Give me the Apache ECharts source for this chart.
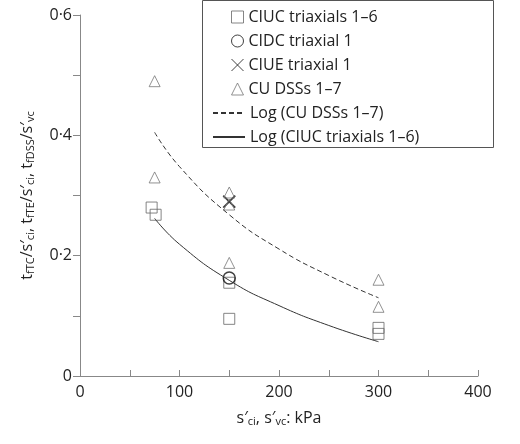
<!DOCTYPE html>
<html><head><meta charset="utf-8">
<script src="https://cdn.jsdelivr.net/npm/echarts@6/dist/echarts.min.js"></script>
<style>body{margin:0}#c{width:520px;height:444px}</style></head>
<body><div id="c"></div>
<script>
// 데이터
var ciucTriax = [[72, 0.28], [76, 0.268], [150, 0.155], [150, 0.095], [300, 0.08], [300, 0.07]];
var cidcTriax = [[150, 0.163]];
var ciueTriax = [[150, 0.29]];
var cuDss = [[75, 0.49], [75, 0.33], [150, 0.305], [150, 0.285], [150, 0.188], [300, 0.16], [300, 0.115]];
var logDss = [[75, 0.405], [100, 0.348], [150, 0.268], [200, 0.211], [250, 0.167], [300, 0.13]];
var logCiuc = [[75, 0.262], [100, 0.219], [150, 0.159], [200, 0.117], [250, 0.084], [300, 0.057]];

var font = 'Open Sans';
var grey = '#888';
var crossPath = 'path://M0,0L10,10M10,0L0,10';

var sub = {fontSize: 11, fontFamily: font, verticalAlign: 'bottom', padding: [6, 0, 0, 0], color: '#222'};
var mainTxt = {fontSize: 16, fontFamily: font, color: '#222'};
var legText = {fontFamily: font, fontSize: 16, color: '#222'};

var option = {
    animation: false,
    grid: {left: 80, right: 42, top: 15, bottom: 68},
    graphic: [{type: 'rect', shape: {x: 202.5, y: 0.5, width: 291, height: 147},
        style: {fill: 'none', stroke: '#555', lineWidth: 1}, z: 1}],
    legend: [{
        orient: 'vertical', left: 226, top: 4, itemGap: 8, itemWidth: 12, itemHeight: 12,
        textStyle: legText, itemStyle: {borderWidth: 1},
        data: ['CIUC triaxials 1–6', 'CIDC triaxial 1', 'CIUE triaxial 1', 'CU DSSs 1–7']
    }, {
        orient: 'vertical', left: 207, top: 100, itemGap: 8, itemWidth: 32, itemHeight: 12,
        textStyle: legText, itemStyle: {opacity: 0},
        data: ['Log (CU DSSs 1–7)', 'Log (CIUC triaxials 1–6)']
    }],
    xAxis: {
        type: 'value', min: 0, max: 400, interval: 50,
        axisLine: {lineStyle: {color: grey}},
        axisTick: {inside: true, length: 6, lineStyle: {color: grey}},
        splitLine: {show: false},
        axisLabel: {fontFamily: font, fontSize: 16, color: '#222',
            formatter: function (v) { return v % 100 === 0 ? v : ''; }},
        name: '{m|s′}{s|ci}{m|, s′}{s|vc}{m|: kPa}', nameLocation: 'middle', nameGap: 34,
        nameTextStyle: {rich: {m: mainTxt, s: sub}}
    },
    yAxis: {
        type: 'value', min: 0, max: 0.6, interval: 0.1,
        axisLine: {show: true, lineStyle: {color: grey}},
        axisTick: {length: 7, lineStyle: {color: grey}},
        splitLine: {show: false},
        axisLabel: {fontFamily: font, fontSize: 16, color: '#222',
            formatter: function (v) {
                var r = Math.round(v * 10);
                if (r % 2) return '';
                return r === 0 ? '0' : '0·' + r;
            }},
        name: '{m|t}{s|fTC}{m|/s′}{s|ci}{m|, t}{s|fTE}{m|/s′}{s|ci}{m|, t}{s|fDSS}{m|/s′}{s|vc}',
        nameLocation: 'middle', nameGap: 44,
        nameTextStyle: {rich: {m: mainTxt, s: sub}}
    },
    series: [
        {name: 'CIUC triaxials 1–6', type: 'scatter', data: ciucTriax, symbol: 'rect', symbolSize: 11,
            itemStyle: {color: 'rgba(0,0,0,0)', borderColor: '#666', borderWidth: 1}},
        {name: 'CIDC triaxial 1', type: 'scatter', data: cidcTriax, symbol: 'circle', symbolSize: 12,
            itemStyle: {color: 'rgba(0,0,0,0)', borderColor: '#111', borderWidth: 1.5}},
        {name: 'CIUE triaxial 1', type: 'scatter', data: ciueTriax, symbol: crossPath, symbolSize: 12,
            itemStyle: {color: 'rgba(0,0,0,0)', borderColor: '#111', borderWidth: 1.8}},
        {name: 'CU DSSs 1–7', type: 'scatter', data: cuDss, symbol: 'triangle', symbolSize: 11,
            itemStyle: {color: 'rgba(0,0,0,0)', borderColor: '#777', borderWidth: 1}},
        {name: 'Log (CU DSSs 1–7)', type: 'line', data: logDss, smooth: true, showSymbol: false,
            symbol: 'none', lineStyle: {color: '#333', width: 1, type: [5, 3]},
            itemStyle: {color: '#333'}},
        {name: 'Log (CIUC triaxials 1–6)', type: 'line', data: logCiuc, smooth: true, showSymbol: false,
            symbol: 'none', lineStyle: {color: '#333', width: 1}, itemStyle: {color: '#333'}}
    ]
};
var chart = echarts.init(document.getElementById('c'));
chart.setOption(option);
</script></body></html>
